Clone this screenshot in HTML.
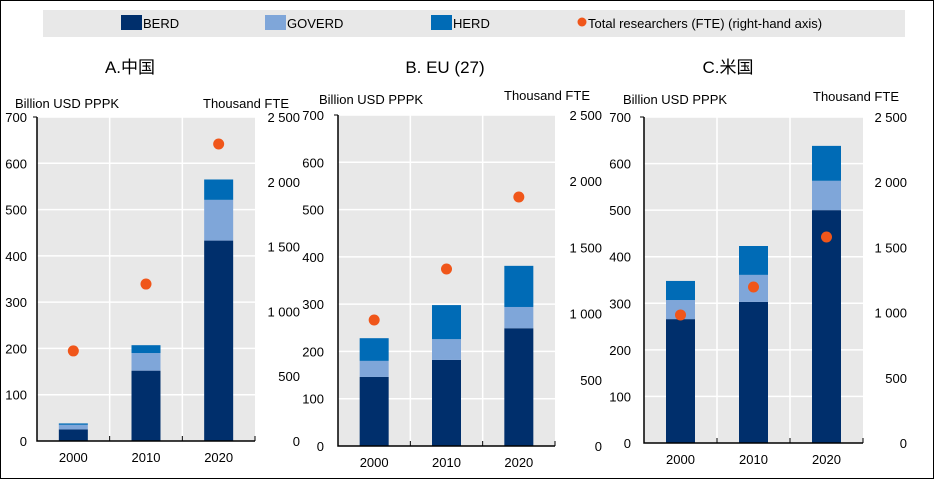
<!DOCTYPE html>
<html><head><meta charset="utf-8"><style>
body{margin:0;background:#fff;}
svg{display:block;font-family:"Liberation Sans","Noto Sans CJK JP",sans-serif;}
</style></head><body>
<svg id="c" width="935" height="480" xmlns="http://www.w3.org/2000/svg">
<rect x="0.5" y="0.5" width="933" height="478" fill="#fff" stroke="#000"/>
<g>
<rect x="43" y="10" width="862" height="27" fill="#e8e8e8"/>
<g><rect x="121" y="15" width="21" height="15" fill="#002f6c"/><text x="143" y="28" font-size="13">BERD</text></g>
<g><rect x="265" y="15" width="21" height="15" fill="#7fa6d9"/><text x="287" y="28" font-size="13">GOVERD</text></g>
<g><rect x="431" y="15" width="21" height="15" fill="#006bb6"/><text x="453" y="28" font-size="13">HERD</text></g>
<g><circle cx="582" cy="22" r="4.5" fill="#f0561a"/><text x="588" y="28" font-size="13">Total researchers (FTE) (right-hand axis)</text></g>
</g>
</svg>
<script>
const categories=["2000","2010","2020"];
const panelTitles=["A.中国","B. EU (27)","C.米国"];
const berd=[[25,152,433],[146,182,249],[266,303,500]];
const goverd=[[10,38,88],[34,44,45],[41,58,63]];
const herd=[[3,17,44],[48,72,87],[41,62,75]];
const researchers=[[695,1211,2292],[952,1337,1881],[982,1196,1580]];
const leftTicks=[0,100,200,300,400,500,600,700];
const rightTicks=[0,500,1000,1500,2000,2500];
const rightTickLabels=["0","500","1 000","1 500","2 000","2 500"];

const svg=document.getElementById('c');
const NS="http://www.w3.org/2000/svg";
const panels=[
 {x0:37,x1:255,yT:117,yB:441,lx:27,rx:300,title:[130,73],lt:[15,108],rt:[203,108]},
 {x0:338,x1:555,yT:115,yB:446,lx:324,rx:602,title:[445,73],lt:[319,104],rt:[504,100]},
 {x0:644,x1:863,yT:117,yB:443,lx:631,rx:907,title:[728,73],lt:[623,104],rt:[813,101]}
];
function mk(tag,attrs,parent){const e=document.createElementNS(NS,tag);for(const k in attrs)e.setAttribute(k,attrs[k]);(parent||svg).appendChild(e);return e;}
panels.forEach((p,pi)=>{
 const g=mk('g',{});
 
 
 const yL=v=>p.yB-(v/700)*(p.yB-p.yT);
 const yR=v=>p.yB-(v/2500)*(p.yB-p.yT);
 const cw=(p.x1-p.x0)/categories.length;
 const xC=i=>p.x0+cw*(i+0.5);
 const bg=mk('rect',{x:p.x0,y:p.yT,width:p.x1-p.x0,height:p.yB-p.yT,fill:'#e8e8e8'},g);
 
 
 leftTicks.forEach(t=>{
  if(t>0){const l=mk('line',{x1:p.x0,x2:p.x1,y1:yL(t),y2:yL(t),stroke:'#fff','stroke-width':1.5},g);
  
  }
  const tx=mk('text',{x:p.lx,y:yL(t)+5,'font-size':13,'text-anchor':'end'},g);tx.textContent=t;
  
  
 });
 for(let i=1;i<categories.length;i++){
  const l=mk('line',{x1:p.x0+cw*i,x2:p.x0+cw*i,y1:p.yT,y2:p.yB,stroke:'#fff','stroke-width':1.5},g);
  
  
 }
 rightTicks.forEach((t,i)=>{
  const tx=mk('text',{x:p.rx,y:yR(t)+5,'font-size':13,'text-anchor':'end'},g);tx.textContent=rightTickLabels[i];
  
  
 });
 categories.forEach((c,i)=>{
  const bw=29,bx=xC(i)-bw/2;
  const b=berd[pi][i],gv=goverd[pi][i],h=herd[pi][i];
  const r1=mk('rect',{x:bx,y:yL(b),width:bw,height:yL(0)-yL(b),fill:'#002f6c'},g);
  
  
  const r2=mk('rect',{x:bx,y:yL(b+gv),width:bw,height:yL(b)-yL(b+gv),fill:'#7fa6d9'},g);
  
  
  const r3=mk('rect',{x:bx,y:yL(b+gv+h),width:bw,height:yL(b+gv)-yL(b+gv+h),fill:'#006bb6'},g);
  
  
  const d=mk('circle',{cx:xC(i),cy:yR(researchers[pi][i]),r:5.5,fill:'#f0561a'},g);
  
  
  const tx=mk('text',{x:xC(i),y:p.yB+21,'font-size':13,'text-anchor':'middle'},g);tx.textContent=c;
  
  
 });
 const ax=mk('path',{d:`M${p.x0},${p.yT}V${p.yB}H${p.x1}`,fill:'none',stroke:'#000','stroke-width':1.5},g);
 
 
 mk('line',{x1:p.x0-4,x2:p.x0,y1:p.yT,y2:p.yT,stroke:'#000'},g);
 for(let i=1;i<=categories.length;i++){mk('line',{x1:p.x0+cw*i,x2:p.x0+cw*i,y1:p.yB,y2:p.yB-5,stroke:'#000'},g);}
 const t=mk('text',{x:p.title[0],y:p.title[1],'font-size':17,'text-anchor':'middle'},g);t.textContent=panelTitles[pi];
 
 
 const lt=mk('text',{x:p.lt[0],y:p.lt[1],'font-size':13},g);lt.textContent='Billion USD PPPK';
 
 
 const rt=mk('text',{x:p.rt[0],y:p.rt[1],'font-size':13},g);rt.textContent='Thousand FTE';
 
 
});
</script>
</body></html>
